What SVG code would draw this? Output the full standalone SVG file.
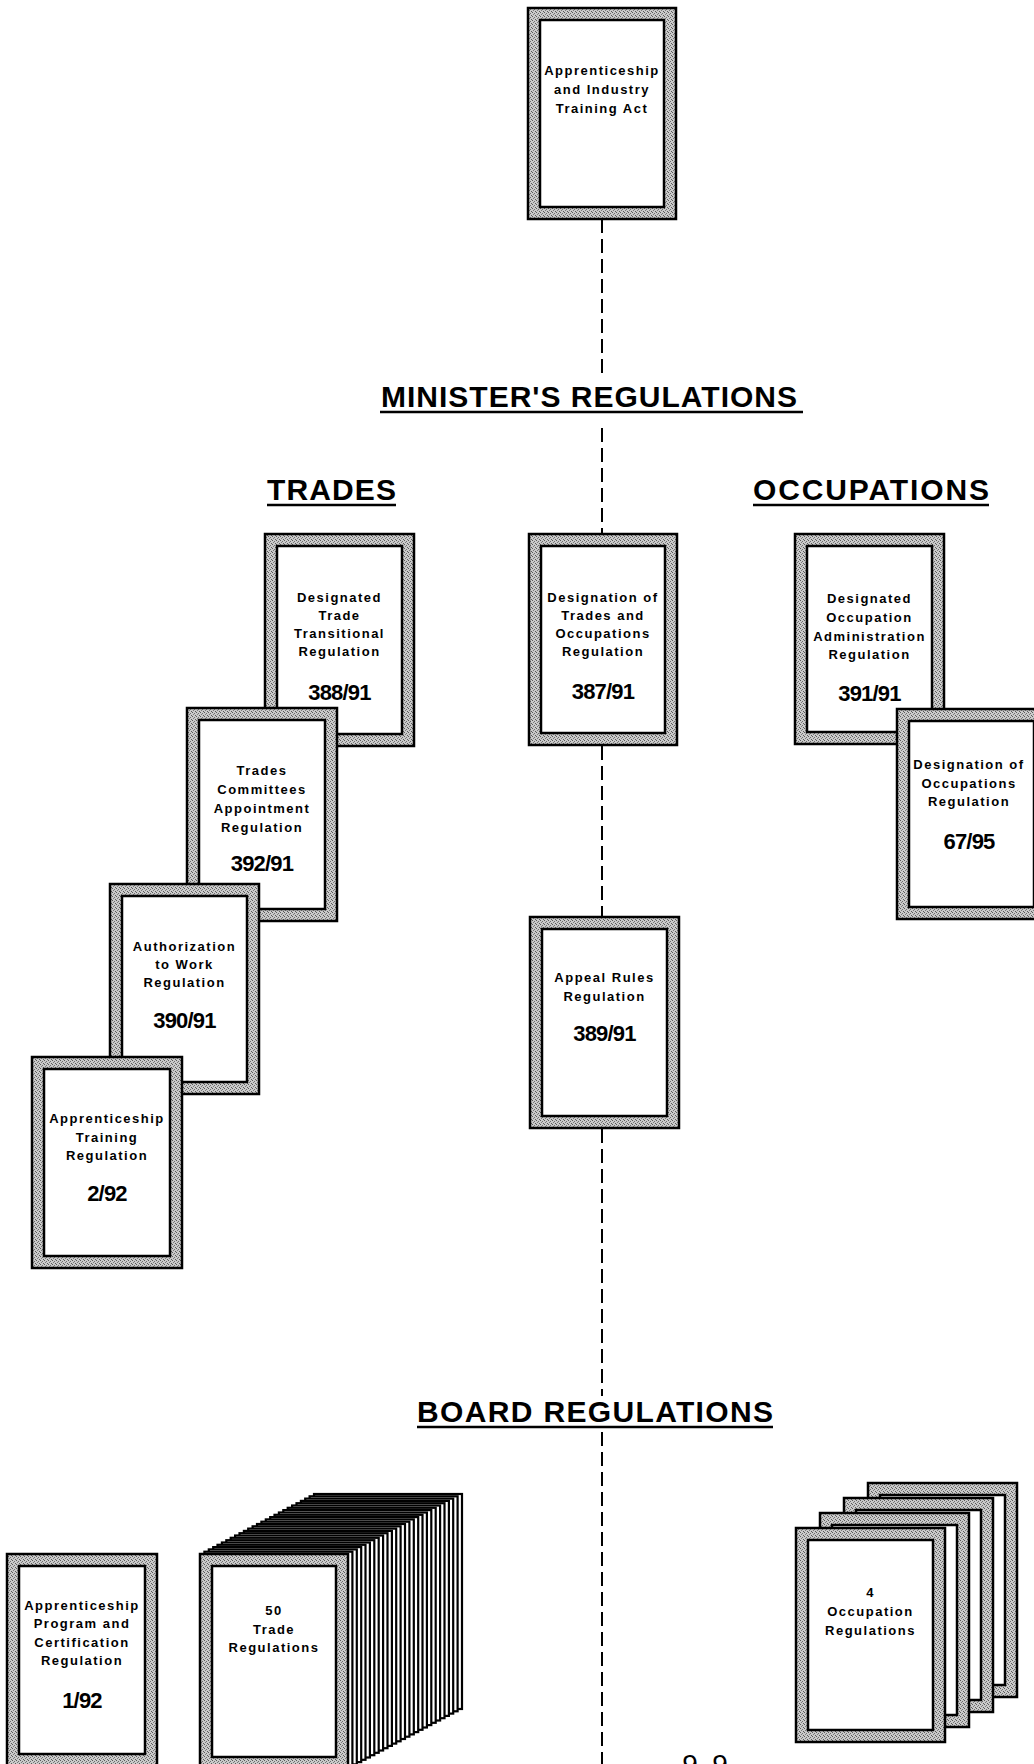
<svg xmlns="http://www.w3.org/2000/svg" width="1034" height="1764" viewBox="0 0 1034 1764">
<defs>
<pattern id="dither" width="4" height="4" patternUnits="userSpaceOnUse">
<rect width="4" height="4" fill="#cacaca"/>
<rect x="0" y="0" width="1" height="1" fill="#5a5a5a"/>
<rect x="2" y="1" width="1" height="1" fill="#6e6e6e"/>
<rect x="1" y="2" width="1" height="1" fill="#7a7a7a"/>
<rect x="3" y="3" width="1" height="1" fill="#5a5a5a"/>
</pattern>
</defs>
<style>
.frame{fill:url(#dither);stroke:#000;stroke-width:2.5}
.page{fill:#fff;stroke:#000;stroke-width:2.5}
.bp{fill:#fff;stroke:#000;stroke-width:2.2}
.t{font-family:"Liberation Sans",Arial,sans-serif;font-weight:bold;font-size:13px;letter-spacing:1.5px;text-anchor:middle;fill:#000}
.n{font-family:"Liberation Sans",Arial,sans-serif;font-weight:bold;font-size:22px;letter-spacing:-0.8px;text-anchor:middle;fill:#000}
.h{font-family:"Liberation Sans",Arial,sans-serif;font-weight:bold;font-size:30px;fill:#000}
.ul{stroke:#000;stroke-width:2.5}
.dash{stroke:#000;stroke-width:2;stroke-dasharray:14 6;fill:none}
</style>
<rect width="1034" height="1764" fill="#fff"/>

<g id="connectors">
<path class="dash" d="M602 219 V378 M602 428 V534 M602 746 V917 M602 1129 V1396 M602 1432 V1764"/>
</g>

<g id="heading-minister">
<text class="h" x="381" y="407" textLength="416">MINISTER'S REGULATIONS</text>
<line class="ul" x1="380" y1="412" x2="803" y2="412"/>
</g>
<g id="heading-trades">
<text class="h" x="267" y="500" textLength="129">TRADES</text>
<line class="ul" x1="267" y1="505" x2="396" y2="505"/>
</g>
<g id="heading-occupations">
<text class="h" x="753" y="500" textLength="236">OCCUPATIONS</text>
<line class="ul" x1="753" y1="505" x2="989" y2="505"/>
</g>
<g id="heading-board">
<text class="h" x="417" y="1422" textLength="356">BOARD REGULATIONS</text>
<line class="ul" x1="417" y1="1427" x2="773" y2="1427"/>
</g>

<g id="node-act">
<rect class="frame" x="528" y="8" width="148" height="211"/>
<rect class="page" x="540" y="20" width="124" height="187"/>
<text class="t" x="602" y="74.5">Apprenticeship</text>
<text class="t" x="602" y="93.5">and Industry</text>
<text class="t" x="602" y="112.5">Training Act</text>
</g>

<g id="node-388-91">
<rect class="frame" x="265" y="534" width="149" height="212"/>
<rect class="page" x="277" y="546" width="125" height="188"/>
<text class="t" x="339.5" y="601.5">Designated</text>
<text class="t" x="339.5" y="619.5">Trade</text>
<text class="t" x="339.5" y="637.5">Transitional</text>
<text class="t" x="339.5" y="655.5">Regulation</text>
<text class="n" x="339.5" y="700">388/91</text>
</g>

<g id="node-392-91">
<rect class="frame" x="187" y="708" width="150" height="213"/>
<rect class="page" x="199" y="720" width="126" height="189"/>
<text class="t" x="262" y="774.5">Trades</text>
<text class="t" x="262" y="793.5">Committees</text>
<text class="t" x="262" y="812.5">Appointment</text>
<text class="t" x="262" y="831.5">Regulation</text>
<text class="n" x="262" y="871">392/91</text>
</g>

<g id="node-390-91">
<rect class="frame" x="110" y="884" width="149" height="210"/>
<rect class="page" x="122" y="896" width="125" height="186"/>
<text class="t" x="184.5" y="950.5">Authorization</text>
<text class="t" x="184.5" y="968.5">to Work</text>
<text class="t" x="184.5" y="986.5">Regulation</text>
<text class="n" x="184.5" y="1028">390/91</text>
</g>

<g id="node-2-92">
<rect class="frame" x="32" y="1057" width="150" height="211"/>
<rect class="page" x="44" y="1069" width="126" height="187"/>
<text class="t" x="107" y="1122.5">Apprenticeship</text>
<text class="t" x="107" y="1141.5">Training</text>
<text class="t" x="107" y="1159.5">Regulation</text>
<text class="n" x="107" y="1201">2/92</text>
</g>

<g id="node-387-91">
<rect class="frame" x="529" y="534" width="148" height="211"/>
<rect class="page" x="541" y="546" width="124" height="187"/>
<text class="t" x="603" y="601.5">Designation of</text>
<text class="t" x="603" y="619.5">Trades and</text>
<text class="t" x="603" y="637.5">Occupations</text>
<text class="t" x="603" y="655.5">Regulation</text>
<text class="n" x="603" y="699">387/91</text>
</g>

<g id="node-389-91">
<rect class="frame" x="530" y="917" width="149" height="211"/>
<rect class="page" x="542" y="929" width="125" height="187"/>
<text class="t" x="604.5" y="981.5">Appeal Rules</text>
<text class="t" x="604.5" y="1000.5">Regulation</text>
<text class="n" x="604.5" y="1041">389/91</text>
</g>

<g id="node-391-91">
<rect class="frame" x="795" y="534" width="149" height="210"/>
<rect class="page" x="807" y="546" width="125" height="186"/>
<text class="t" x="869.5" y="602.5">Designated</text>
<text class="t" x="869.5" y="621.5">Occupation</text>
<text class="t" x="869.5" y="640.5">Administration</text>
<text class="t" x="869.5" y="658.5">Regulation</text>
<text class="n" x="869.5" y="701">391/91</text>
</g>

<g id="node-67-95">
<rect class="frame" x="897" y="709" width="149" height="210"/>
<rect class="page" x="909" y="721" width="125" height="186"/>
<text class="t" x="969" y="768.5">Designation of</text>
<text class="t" x="969" y="787.5">Occupations</text>
<text class="t" x="969" y="805.5">Regulation</text>
<text class="n" x="969" y="849">67/95</text>
</g>

<g id="node-1-92">
<rect class="frame" x="7" y="1554" width="150" height="212"/>
<rect class="page" x="19" y="1566" width="126" height="188"/>
<text class="t" x="82" y="1609.5">Apprenticeship</text>
<text class="t" x="82" y="1627.5">Program and</text>
<text class="t" x="82" y="1646.5">Certification</text>
<text class="t" x="82" y="1664.5">Regulation</text>
<text class="n" x="82" y="1708">1/92</text>
</g>

<g id="node-50-trade">
<rect class="bp" x="314.0" y="1494.0" width="148" height="215"/>
<rect class="bp" x="309.6" y="1496.3" width="148" height="215"/>
<rect class="bp" x="305.2" y="1498.6" width="148" height="215"/>
<rect class="bp" x="300.9" y="1500.9" width="148" height="215"/>
<rect class="bp" x="296.5" y="1503.2" width="148" height="215"/>
<rect class="bp" x="292.1" y="1505.5" width="148" height="215"/>
<rect class="bp" x="287.7" y="1507.8" width="148" height="215"/>
<rect class="bp" x="283.3" y="1510.1" width="148" height="215"/>
<rect class="bp" x="278.9" y="1512.5" width="148" height="215"/>
<rect class="bp" x="274.5" y="1514.8" width="148" height="215"/>
<rect class="bp" x="270.2" y="1517.1" width="148" height="215"/>
<rect class="bp" x="265.8" y="1519.4" width="148" height="215"/>
<rect class="bp" x="261.4" y="1521.7" width="148" height="215"/>
<rect class="bp" x="257.0" y="1524.0" width="148" height="215"/>
<rect class="bp" x="252.6" y="1526.3" width="148" height="215"/>
<rect class="bp" x="248.2" y="1528.6" width="148" height="215"/>
<rect class="bp" x="243.9" y="1530.9" width="148" height="215"/>
<rect class="bp" x="239.5" y="1533.2" width="148" height="215"/>
<rect class="bp" x="235.1" y="1535.5" width="148" height="215"/>
<rect class="bp" x="230.7" y="1537.8" width="148" height="215"/>
<rect class="bp" x="226.3" y="1540.2" width="148" height="215"/>
<rect class="bp" x="221.9" y="1542.5" width="148" height="215"/>
<rect class="bp" x="217.5" y="1544.8" width="148" height="215"/>
<rect class="bp" x="213.2" y="1547.1" width="148" height="215"/>
<rect class="bp" x="208.8" y="1549.4" width="148" height="215"/>
<rect class="bp" x="204.4" y="1551.7" width="148" height="215"/>
<rect class="frame" x="200" y="1554" width="148" height="215"/>
<rect class="page" x="212" y="1566" width="124" height="191"/>
<text class="t" x="274" y="1614.5">50</text>
<text class="t" x="274" y="1633.5">Trade</text>
<text class="t" x="274" y="1651.5">Regulations</text>
</g>

<g id="node-4-occupation">
<rect class="frame" x="868" y="1483" width="149" height="214"/>
<rect class="page" x="880" y="1495" width="125" height="190"/>
<rect class="frame" x="844" y="1498" width="149" height="214"/>
<rect class="page" x="856" y="1510" width="125" height="190"/>
<rect class="frame" x="820" y="1513" width="149" height="214"/>
<rect class="page" x="832" y="1525" width="125" height="190"/>
<rect class="frame" x="796" y="1528" width="149" height="214"/>
<rect class="page" x="808" y="1540" width="125" height="190"/>
<text class="t" x="870.5" y="1596.5">4</text>
<text class="t" x="870.5" y="1615.5">Occupation</text>
<text class="t" x="870.5" y="1634.5">Regulations</text>
</g>

<g id="page-number">
<text x="690 720" y="1774" font-family="Liberation Sans, Arial, sans-serif" font-size="28" text-anchor="middle">99</text>
</g>
</svg>
